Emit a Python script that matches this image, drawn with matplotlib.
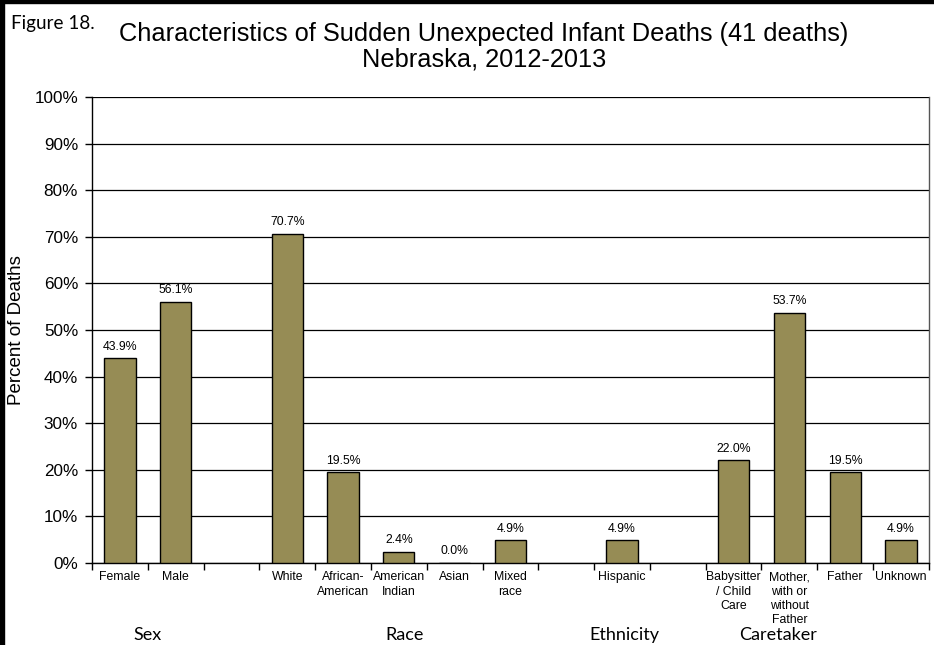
import numpy as np
import matplotlib.pyplot as plt
from matplotlib.patches import Rectangle

categories = ['Female', 'Male', '', 'White', 'African-\nAmerican', 'American\nIndian',
              'Asian', 'Mixed\nrace', '', 'Hispanic', '',
              'Babysitter\n/ Child\nCare', 'Mother,\nwith or\nwithout\nFather', 'Father', 'Unknown']
values = [43.9, 56.1, None, 70.7, 19.5, 2.4, 0.0, 4.9, None, 4.9, None, 22.0, 53.7, 19.5, 4.9]
groups = ['Sex', 'Race', 'Ethnicity', 'Caretaker']
group_pos = [0.5, 5.1, 9.05, 11.8]

plt.rcParams['font.family'] = ['Liberation Sans', 'DejaVu Sans']

fig = plt.figure(figsize=(9.34, 6.45), dpi=100)
ax = fig.add_axes([0.0985, 0.1271, 0.896, 0.7225])

x = np.arange(len(categories))
for i, v in enumerate(values):
    if v is None:
        continue
    ax.bar(x[i], v, width=0.56, color='#968c55', edgecolor='black', linewidth=1, zorder=3)
    ax.text(x[i], v + 1.2, f'{v:.1f}%', ha='center', va='bottom', fontsize=8.8, zorder=4)

ax.set_xlim(-0.5, len(categories) - 0.5)
ax.set_ylim(0, 100)
ax.set_yticks(np.arange(0, 101, 10))
ax.set_yticklabels([f'{t}%' for t in range(0, 101, 10)], fontsize=12.3)
ax.yaxis.grid(True, color='black', linewidth=0.9, zorder=0)
ax.tick_params(axis='y', direction='out', length=5, width=1, pad=5)

ax.set_xticks(np.arange(-0.5, len(categories), 1))
ax.set_xticklabels([])
ax.set_xticks(x, minor=True)
ax.set_xticklabels(categories, minor=True, fontsize=8.8, linespacing=1.25, va='top')
ax.tick_params(axis='x', which='major', direction='out', length=5, width=1)
ax.tick_params(axis='x', which='minor', length=0, pad=6)

for s in ax.spines.values():
    s.set_linewidth(1)
    s.set_color('black')
ax.spines['top'].set_visible(False)
ax.spines['right'].set_color('#555555')

ax.set_ylabel('Percent of Deaths', fontsize=13.5, labelpad=7)

for g, p in zip(groups, group_pos):
    ax.text(p, -13.8, g, ha='center', va='top', fontsize=13, family=['Lato', 'DejaVu Sans'])

fig.text(0.518, 0.966, 'Characteristics of Sudden Unexpected Infant Deaths (41 deaths)\nNebraska, 2012-2013',
         ha='center', va='top', fontsize=18.3, linespacing=1.08)
fig.text(0.012, 0.976, 'Figure 18.', ha='left', va='top', fontsize=13.6, family=['Lato', 'DejaVu Sans'])

# black frame at top and left
fig.patches.append(Rectangle((0, 0.995), 1, 0.005, transform=fig.transFigure, color='black'))
fig.patches.append(Rectangle((0, 0), 0.0045, 1, transform=fig.transFigure, color='black'))

fig.savefig('out.png', dpi=100)
